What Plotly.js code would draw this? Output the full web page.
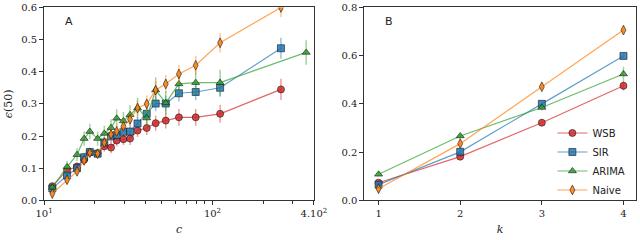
<!DOCTYPE html>
<html>
<head>
<meta charset="utf-8">
<script src="https://cdn.plot.ly/plotly-3.0.1.min.js"></script>
<style>
  html, body { margin: 0; padding: 0; background: #fff; }
  #chart { width: 640px; height: 240px; }
</style>
</head>
<body>
<div id="chart"></div>
<script>
// Panel A: error vs c (log axis)
const cVals = [11.2, 13.7, 15.7, 17.3, 18.7, 20.8, 22.8, 25.0, 27.0, 29.6, 32.4, 35.9, 40.7, 46.0, 52.8, 63.2, 79.5, 111, 255];
const cArima = [11.2, 13.7, 15.7, 17.3, 18.7, 20.8, 22.8, 25.0, 27.0, 29.6, 32.4, 35.9, 40.7, 46.0, 52.8, 63.2, 79.5, 111, 360];

const wsbA = [0.044, 0.093, 0.105, 0.126, 0.149, 0.146, 0.168, 0.164, 0.186, 0.190, 0.192, 0.217, 0.225, 0.240, 0.248, 0.258, 0.258, 0.269, 0.345];
const sirA = [0.037, 0.077, 0.100, 0.134, 0.150, 0.145, 0.180, 0.199, 0.203, 0.213, 0.214, 0.239, 0.269, 0.301, 0.301, 0.333, 0.337, 0.350, 0.473];
const arimaA = [0.040, 0.104, 0.142, 0.192, 0.214, 0.192, 0.208, 0.226, 0.255, 0.247, 0.266, 0.287, 0.256, 0.343, 0.303, 0.362, 0.366, 0.366, 0.460];
const naiveA = [0.021, 0.064, 0.090, 0.124, 0.148, 0.145, 0.179, 0.205, 0.214, 0.230, 0.252, 0.287, 0.300, 0.343, 0.362, 0.393, 0.420, 0.490, 0.600];

const wsbAErr = [0.008, 0.012, 0.012, 0.014, 0.012, 0.012, 0.016, 0.018, 0.018, 0.018, 0.020, 0.020, 0.022, 0.024, 0.025, 0.026, 0.026, 0.028, 0.033];
const sirAErr = [0.008, 0.012, 0.012, 0.014, 0.012, 0.012, 0.016, 0.018, 0.018, 0.018, 0.020, 0.020, 0.022, 0.024, 0.025, 0.026, 0.026, 0.028, 0.033];
const arimaAErr = [0.010, 0.018, 0.020, 0.022, 0.024, 0.022, 0.024, 0.026, 0.028, 0.028, 0.030, 0.032, 0.032, 0.040, 0.036, 0.038, 0.038, 0.040, 0.038];
const naiveAErr = [0.008, 0.012, 0.012, 0.014, 0.012, 0.012, 0.018, 0.020, 0.020, 0.022, 0.022, 0.024, 0.026, 0.028, 0.028, 0.028, 0.030, 0.030, 0.030];

// Panel B: error vs k
const kVals = [1, 2, 3, 4];
const wsbB = [0.073, 0.181, 0.322, 0.475];
const sirB = [0.065, 0.201, 0.400, 0.599];
const arimaB = [0.108, 0.267, 0.385, 0.524];
const naiveB = [0.048, 0.235, 0.471, 0.706];
const wsbBErr = [0.008, 0.010, 0.008, 0.020];
const sirBErr = [0.008, 0.010, 0.012, 0.012];
const arimaBErr = [0.008, 0.010, 0.012, 0.030];
const naiveBErr = [0.012, 0.020, 0.012, 0.015];

const names = ['WSB', 'SIR', 'ARIMA', 'Naive'];
const rgb = ['214,39,40', '31,119,180', '44,160,44', '255,127,14'];
const symbols = ['circle', 'square', 'triangle-up', 'diamond-tall'];

function series(x, y, err, i, xa, ya, legend) {
  return {
    x: x, y: y,
    xaxis: xa, yaxis: ya,
    mode: 'lines+markers',
    name: names[i],
    showlegend: legend,
    line: { color: 'rgba(' + rgb[i] + ',0.7)', width: 1.2 },
    marker: {
      symbol: symbols[i], size: 7,
      color: 'rgba(' + rgb[i] + ',0.85)',
      line: { color: 'rgba(30,30,30,0.8)', width: 0.8 }
    },
    error_y: { type: 'data', array: err, visible: true, width: 0, thickness: 1.5, color: 'rgba(' + rgb[i] + ',0.45)' }
  };
}

const data = [
  series(cVals, wsbA, wsbAErr, 0, 'x', 'y', false),
  series(cVals, sirA, sirAErr, 1, 'x', 'y', false),
  series(cArima, arimaA, arimaAErr, 2, 'x', 'y', false),
  series(cVals, naiveA, naiveAErr, 3, 'x', 'y', false),
  series(kVals, wsbB, wsbBErr, 0, 'x2', 'y2', true),
  series(kVals, sirB, sirBErr, 1, 'x2', 'y2', true),
  series(kVals, arimaB, arimaBErr, 2, 'x2', 'y2', true),
  series(kVals, naiveB, naiveBErr, 3, 'x2', 'y2', true)
];

const tickFont = { family: 'DejaVu Serif, serif', size: 10, color: '#222' };
const titleFont = { family: 'DejaVu Serif, serif', size: 11, color: '#222' };
const frame = { showline: true, mirror: true, linecolor: '#333', linewidth: 1, ticks: 'outside', ticklen: 4, tickcolor: '#333', showgrid: false, zeroline: false, tickfont: tickFont };

const layout = {
  width: 640, height: 240,
  margin: { l: 0, r: 0, t: 0, b: 0 },
  paper_bgcolor: '#fff', plot_bgcolor: '#fff',
  showlegend: true,
  xaxis: Object.assign({}, frame, {
    domain: [0.0688, 0.4906], type: 'log', range: [1, Math.log10(400) + 0.0005],
    tickmode: 'array', tickvals: [10, 100, 400], ticktext: ['10<sup>1</sup>', '10<sup>2</sup>', '4.10<sup>2</sup>'],
    minor: { tickmode: 'array', tickvals: [20, 30, 40, 50, 60, 70, 80, 90, 200, 300], ticks: 'outside', ticklen: 2.5, tickcolor: '#333' },
    title: { text: '<i>c</i>', font: titleFont, standoff: 6 },
    anchor: 'y'
  }),
  yaxis: Object.assign({}, frame, {
    domain: [0.1654, 0.969], range: [0, 0.6], dtick: 0.1, tickformat: '.1f',
    title: { text: '<i>ϵ</i>(50)', font: titleFont, standoff: 6 },
    anchor: 'x'
  }),
  xaxis2: Object.assign({}, frame, {
    domain: [0.5692, 0.9933], range: [0.825, 4.15], dtick: 1,
    title: { text: '<i>k</i>', font: titleFont, standoff: 6 },
    anchor: 'y2'
  }),
  yaxis2: Object.assign({}, frame, {
    domain: [0.1654, 0.969], range: [0, 0.8], dtick: 0.2, tickformat: '.1f',
    anchor: 'x2'
  }),
  legend: {
    x: 0.985, xanchor: 'right', y: 0.148, yanchor: 'bottom',
    bgcolor: 'rgba(255,255,255,0)',
    font: { family: 'DejaVu Sans, sans-serif', size: 10, color: '#222' },
    tracegroupgap: 0, itemwidth: 30
  },
  annotations: [
    { text: 'A', xref: 'paper', yref: 'paper', x: 0.0688 + 0.03, y: 0.91, xanchor: 'left', yanchor: 'middle', showarrow: false, font: { family: 'DejaVu Sans, sans-serif', size: 11, color: '#222' } },
    { text: 'B', xref: 'paper', yref: 'paper', x: 0.5692 + 0.03, y: 0.91, xanchor: 'left', yanchor: 'middle', showarrow: false, font: { family: 'DejaVu Sans, sans-serif', size: 11, color: '#222' } }
  ]
};

Plotly.newPlot('chart', data, layout, { staticPlot: true });
</script>
</body>
</html>
